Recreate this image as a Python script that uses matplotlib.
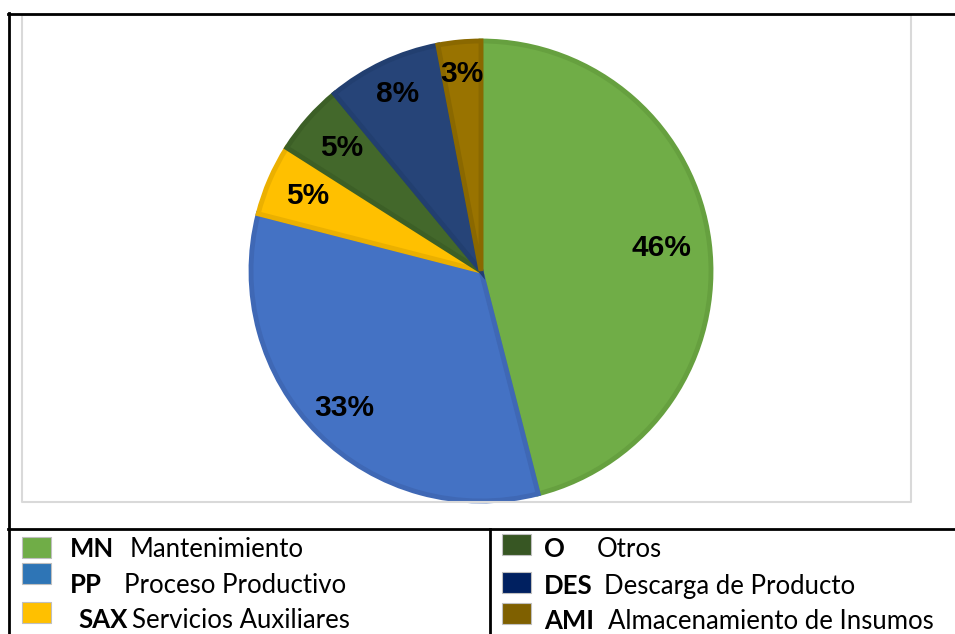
import numpy as np
import matplotlib.pyplot as plt

# shares of each area (%)
codes = ["MN", "PP", "SAX", "O", "DES", "AMI"]
names = ["Mantenimiento", "Proceso Productivo", "Servicios Auxiliares",
         "Otros", "Descarga de Producto", "Almacenamiento de Insumos"]
values = [46, 33, 5, 5, 8, 3]
fills = ["#70AD47", "#4472C4", "#FFC000", "#43682B", "#264478", "#997300"]
edges = ["#66A03F", "#3F68B5", "#EBB000", "#3C5F26", "#223F70", "#8A6800"]
legend_fills = ["#70AD47", "#2E75B6", "#FFC000", "#375623", "#002060", "#7F6000"]
label_dist = [0.79, 0.84, 0.82, 0.81, 0.85, 0.86]

W, H = 955, 634
fig = plt.figure(figsize=(W / 100, H / 100), dpi=100)
ax = fig.add_axes([0, 0, 1, 1])
ax.set_xlim(0, W)
ax.set_ylim(0, H)
ax.set_aspect("equal")
ax.axis("off")


def Y(y):
    # convert top-down pixel row to axes coords
    return H - y


# pie
cx, cy, r = 481, Y(271), 230
wedges, texts, autotexts = ax.pie(
    values, colors=fills, startangle=90, counterclock=False,
    center=(cx, cy), radius=r, autopct="%d%%", pctdistance=0.82,
    wedgeprops=dict(linewidth=3.5, edgecolor="white"),
    textprops=dict(family="Liberation Sans", weight="bold", fontsize=21.5, color="black"))
for w, ec, t, d in zip(wedges, edges, autotexts, label_dist):
    w.set_edgecolor(ec)
    mid = np.deg2rad((w.theta1 + w.theta2) / 2)
    t.set_position((cx + d * r * np.cos(mid), cy + d * r * np.sin(mid)))
ax.set_xlim(0, W)
ax.set_ylim(0, H)

# chart frame (light gray)
ax.plot([22, 911, 911, 22, 22], [Y(15), Y(15), Y(502), Y(502), Y(15)],
        color="#D9D9D9", lw=1.5)

# table lines
ax.plot([8, W], [Y(14), Y(14)], color="black", lw=2)
ax.plot([9, 9], [Y(13), 0], color="black", lw=2)
ax.plot([8, W], [Y(529), Y(529)], color="black", lw=2)
ax.plot([490, 490], [Y(529), 0], color="black", lw=2)

# legend table
sq_left = [(22, 537), (22, 563), (22, 602), (502, 534), (502, 572), (502, 603)]
code_x = [70, 70, 78, 544, 544, 544]
name_x = [130, 124, 132, 597, 604, 608]
base_y = [557, 593, 628, 557, 594, 629]
for i in range(6):
    x0, y0 = sq_left[i]
    ax.add_patch(plt.Rectangle((x0, Y(y0 + 21)), 29, 21, facecolor=legend_fills[i],
                               edgecolor="#BFBFBF", lw=0.8))
    ax.text(code_x[i], Y(base_y[i]), codes[i], family="Lato", weight="bold",
            fontsize=18.5, va="baseline", ha="left")
    ax.text(name_x[i], Y(base_y[i]), names[i], family="Lato",
            fontsize=18.5, va="baseline", ha="left")

fig.savefig("out.png", dpi=100)
